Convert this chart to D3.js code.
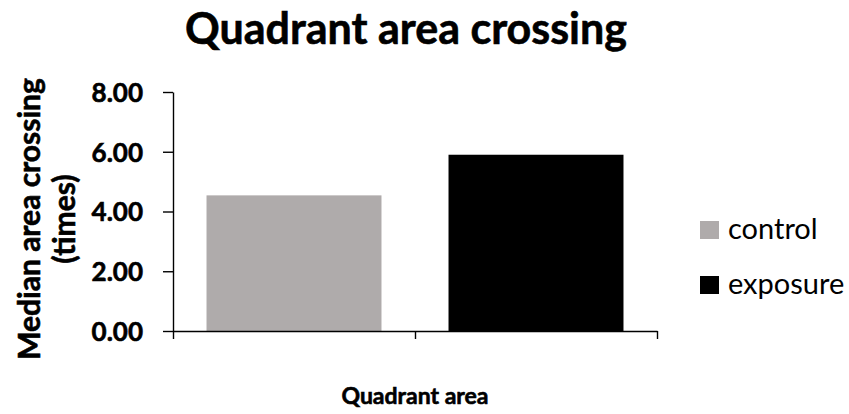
<!DOCTYPE html>
<html>
<head>
<meta charset="utf-8">
<script src="https://cdn.jsdelivr.net/npm/d3@7"></script>
<style>
  body { margin: 0; background: #fff; }
  text { font-family: Lato, "Open Sans", sans-serif; fill: #000; }
  .heavy { font-weight: bold; stroke: #000; stroke-width: 0.6px; }
</style>
</head>
<body>
<svg id="chart" width="849" height="414"></svg>
<script>
// data
var categories = ["control", "exposure"];
var values = [4.54, 5.90];
var colors = ["#AFABAB", "#000000"];
var yTicks = [0, 2, 4, 6, 8];
var title = "Quadrant area crossing";
var xTitle = "Quadrant area";
var yTitle = ["Median area crossing", "(times)"];

var svg = d3.select("#chart"),
    margin = {top: 92, right: 192, bottom: 83, left: 173},
    width = +svg.attr("width") - margin.left - margin.right,
    height = +svg.attr("height") - margin.top - margin.bottom;

var g = svg.append("g")
    .attr("transform", "translate(" + margin.left + "," + margin.top + ")");

var yScale = d3.scaleLinear().domain([0, 8]).range([height, 0]);
var xScale = d3.scaleBand().domain(categories).range([0, width])
    .paddingInner(0.277).paddingOuter(0.1385);
// category boundaries for the x tick marks
var xEdges = d3.scaleLinear().domain([0, categories.length]).range([0, width]);

// bars
g.selectAll(".bar")
  .data(values)
  .enter().append("rect")
  .attr("class", "bar")
  .attr("x", function(d, i) { return xScale(categories[i]); })
  .attr("width", xScale.bandwidth())
  .attr("y", function(d) { return yScale(d); })
  .attr("height", function(d) { return height - yScale(d); })
  .attr("fill", function(d, i) { return colors[i]; });

// y axis
var yAxis = g.append("g")
  .call(d3.axisLeft(yScale)
    .tickValues(yTicks)
    .tickFormat(d3.format(".2f"))
    .tickSize(10)
    .tickSizeOuter(0)
    .tickPadding(20));
yAxis.selectAll("text")
  .attr("class", "heavy")
  .attr("font-size", "26px")
  .attr("font-family", "Lato, sans-serif")
  .attr("dy", "0.36em");

// x axis (ticks at category edges, no labels)
var xAxis = g.append("g")
  .attr("transform", "translate(0," + height + ")")
  .call(d3.axisBottom(xEdges)
    .tickValues(d3.range(categories.length + 1))
    .tickFormat("")
    .tickSize(8)
    .tickSizeOuter(0));

svg.selectAll(".domain, .tick line")
  .attr("stroke", "#000")
  .attr("stroke-width", 1.4);

// title
svg.append("text")
  .attr("class", "heavy")
  .attr("x", 406)
  .attr("y", 44)
  .attr("text-anchor", "middle")
  .attr("font-size", "43px")
  .text(title);

// x title
svg.append("text")
  .attr("class", "heavy")
  .attr("x", margin.left + width / 2)
  .attr("y", 404)
  .attr("text-anchor", "middle")
  .attr("font-size", "23px")
  .text(xTitle);

// y title, two lines
svg.append("g")
  .attr("transform", "translate(0,219) rotate(-90)")
  .selectAll("text")
  .data(yTitle)
  .enter().append("text")
  .attr("class", "heavy")
  .attr("x", 0)
  .attr("y", function(d, i) { return 40 + i * 35; })
  .attr("text-anchor", "middle")
  .attr("font-size", "30px")
  .text(function(d) { return d; });

// legend
var legend = svg.append("g")
  .attr("transform", "translate(700,221)")
  .selectAll("g")
  .data(categories)
  .enter().append("g")
  .attr("transform", function(d, i) { return "translate(0," + i * 55 + ")"; });

legend.append("rect")
  .attr("width", 19)
  .attr("height", 18)
  .attr("fill", function(d, i) { return colors[i]; });

legend.append("text")
  .attr("x", 28)
  .attr("y", 18)
  .attr("font-size", "29px")
  .text(function(d) { return d; });
</script>
</body>
</html>
